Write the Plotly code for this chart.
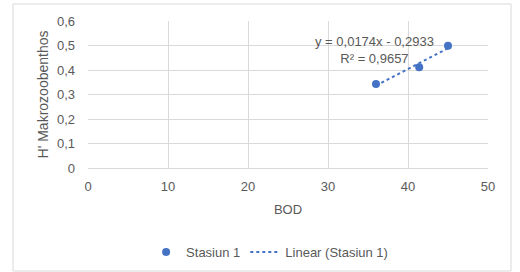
import numpy as np
import plotly.graph_objects as go

bod = [36.0, 41.4, 45.0]
h_index = [0.343, 0.411, 0.499]
series_name = "Stasiun 1"
trend_name = "Linear (Stasiun 1)"
eq_text = "y = 0,0174x - 0,2933<br>R² = 0,9657"
x_ticks = [0, 10, 20, 30, 40, 50]
y_ticks = [0, 0.1, 0.2, 0.3, 0.4, 0.5, 0.6]
y_tick_labels = ["0", "0,1", "0,2", "0,3", "0,4", "0,5", "0,6"]

blue = "#4472C4"
gray = "#595959"
grid = "#d9d9d9"
font = "Liberation Sans"

coef = np.polyfit(bod, h_index, 1)
tx = [min(bod), max(bod)]
ty = [coef[0] * v + coef[1] for v in tx]

fig = go.Figure()
fig.add_trace(go.Scatter(x=bod, y=h_index, mode="markers", name=series_name,
                         marker=dict(color=blue, size=8)))
fig.add_trace(go.Scatter(x=tx, y=ty, mode="lines", name=trend_name,
                         line=dict(color=blue, width=2, dash="dot")))

fig.add_annotation(x=35.8, y=0.481, xref="x", yref="y", text=eq_text,
                   showarrow=False, align="center",
                   font=dict(family=font, size=13, color=gray))

L, R, T, B = 88, 32, 21, 104
W, H = 520, 272
pw, ph = W - L - R, H - T - B
fig.add_shape(type="rect", xref="paper", yref="paper",
              x0=(13 - L) / pw, x1=(511 - L) / pw,
              y0=(T + ph - 271) / ph, y1=(T + ph - 4) / ph,
              line=dict(color=grid, width=1), fillcolor="rgba(0,0,0,0)")

fig.update_layout(
    width=W, height=H,
    margin=dict(l=L, r=R, t=T, b=B, autoexpand=False),
    paper_bgcolor="white", plot_bgcolor="white",
    font=dict(family=font, size=13, color=gray),
    showlegend=True,
    legend=dict(orientation="h", x=0.454, y=(T + ph - 252) / ph,
                xanchor="center", yanchor="middle",
                font=dict(family=font, size=13, color=gray)),
    xaxis=dict(range=[0, 50], tickvals=x_ticks, showgrid=True, gridcolor=grid,
               zeroline=False, showline=True, linecolor=grid,
               ticks="", automargin=False, ticklabelstandoff=6,
               tickfont=dict(size=13),
               title=dict(text="BOD", standoff=12, font=dict(size=13, color=gray))),
    yaxis=dict(range=[0, 0.6], tickvals=y_ticks, ticktext=y_tick_labels,
               showgrid=True, gridcolor=grid, zeroline=False, showline=False,
               ticks="", ticklabelstandoff=12, automargin=False,
               tickfont=dict(size=13),
               title=dict(text="H' Makrozoobenthos", standoff=5,
                          font=dict(size=14, color=gray))),
)

fig.write_html("out.html", config={"displayModeBar": False},
               post_script="document.body.style.margin='0';document.body.style.overflow='hidden';")
